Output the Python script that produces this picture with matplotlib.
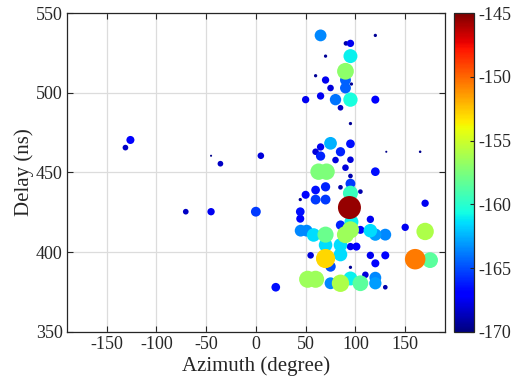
import numpy as np
import matplotlib
matplotlib.use("Agg")
import matplotlib.pyplot as plt

# ---- data: azimuth (deg), delay (ns), power (dB) ----
azimuth = [65, 90.5, 95, 120, 95, 70, 90, 60, 70, 90, 96, 75, 90,
           50, 65, 80, 95, 120, 85, 95,
           75, 95, 65, 60, 65, 85, 80, 95, 90, 120, 63, 71, 95, 95, 85, 70, 60, 105, 50,
           131, 165, 5, -126, -131, -45, -35.6, -70.4, -45, 0,
           95, 94, 170, 44.6, 44.6, 60, 70, 85, 115, 150, 170,
           45, 51, 58, 70, 90, 95, 115, 120, 130, 105, 96,
           101, 95, 85, 70, 55, 70, 75, 85, 95, 115, 120, 130, 160, 175,
           52, 60, 75, 85, 95, 105, 110, 120, 120, 130, 20, 44.6]
delay = [536, 531, 531, 536, 523, 523, 513.5, 510.7, 508, 508, 505.5, 503, 503,
         495.7, 498, 495.7, 495.7, 495.7, 490.6, 480.7,
         468.3, 468, 466, 463, 460.3, 463, 457.8, 458, 453, 450.5, 450.5, 450.5, 447.8, 443, 440.7, 441, 439, 438, 436,
         463, 463, 460.5, 470.4, 465.6, 460.5, 455.5, 425.4, 425.4, 425.4,
         437, 428, 430.7, 425.4, 421, 433, 433, 417, 420.6, 415.6, 413,
         413.5, 413.5, 410.8, 411, 411, 414, 413.5, 411, 411, 414, 419,
         403.5, 403.5, 404.5, 404.5, 398, 396, 391, 398.5, 390.5, 398, 393, 398, 395.6, 395,
         383, 383, 380.5, 380.5, 383.5, 380.5, 385.8, 384, 380.5, 378, 378, 433]
power = [-163.5, -169, -167.5, -169.5, -161, -169.5, -157, -169.5, -167.5, -164.5, -169.5, -168, -164.5,
         -167.5, -167.5, -164, -160.5, -167, -168.5, -169.5,
         -162.5, -166.5, -167.5, -168, -166, -166, -168, -168, -168, -166.5, -157.5, -157.5, -169, -165.5, -169, -166, -166.5, -169, -167,
         -169.8, -169.7, -168, -167, -168.5, -169.8, -168.5, -168.5, -167.5, -165.5,
         -159.5, -145.5, -167.5, -166.5, -167, -165.5, -165.5, -166, -167.5, -167.5, -156,
         -163.5, -163.5, -161.5, -158, -156.5, -156.5, -161.5, -163, -163.5, -167, -161,
         -167, -167.5, -161.5, -161.5, -168, -153, -165, -161.5, -169.5, -167.5, -167, -167, -150.5, -158.5,
         -156.5, -156.5, -163.5, -156, -161, -158.5, -168, -163.5, -163, -169, -166.5, -169.5]

plt.rcParams["font.family"] = ["Liberation Serif", "DejaVu Serif"]
plt.rcParams["font.size"] = 13
plt.rcParams["axes.unicode_minus"] = False

az = np.array(azimuth)
dl = np.array(delay)
pw = np.array(power)
order = np.argsort(pw, kind="stable")   # hotter (bigger) on top

fig = plt.figure(figsize=(5.13, 3.85), dpi=100)
ax = fig.add_axes([0.130, 0.138, 0.7375, 0.828])
cax = fig.add_axes([0.885, 0.138, 0.039, 0.828])

sc = ax.scatter(az[order], dl[order], c=pw[order], s=11.2 * (pw[order] + 170),
                cmap="jet", vmin=-170, vmax=-145, linewidths=0, zorder=3)

ax.set_xlim(-190, 190)
ax.set_ylim(350, 550)
ax.set_xticks([-150, -100, -50, 0, 50, 100, 150])
ax.set_yticks([350, 400, 450, 500, 550])
ax.grid(True, color="#dcdcdc", lw=0.9, zorder=0)
ax.set_axisbelow(True)
ax.tick_params(direction="in", top=True, right=True, length=4, width=0.8,
               colors="#262626", labelsize=13, pad=3)
for sp in ax.spines.values():
    sp.set_color("#262626")
    sp.set_linewidth(0.9)
ax.set_xlabel("Azimuth (degree)", fontsize=15, color="#262626", labelpad=2)
ax.set_ylabel("Delay (ns)", fontsize=15, color="#262626", labelpad=1)

cb = fig.colorbar(sc, cax=cax)
cb.set_ticks([-170, -165, -160, -155, -150, -145])
cb.ax.tick_params(direction="in", length=3, width=0.8, colors="#262626", labelsize=13)
cb.outline.set_edgecolor("#262626")
cb.outline.set_linewidth(0.9)

fig.savefig("out.png", dpi=100)
